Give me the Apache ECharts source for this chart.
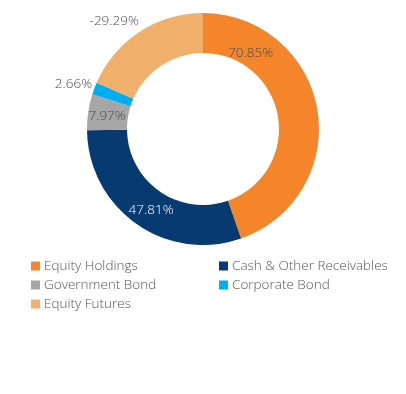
<!DOCTYPE html>
<html><head><meta charset="utf-8">
<script src="https://cdn.jsdelivr.net/npm/echarts@6/dist/echarts.min.js"></script>
<style>html,body{margin:0;padding:0;background:#fff}#c{width:406px;height:394px}</style>
</head><body><div id="c"></div>
<script>
const categories = ['Equity Holdings','Cash & Other Receivables','Government Bond','Corporate Bond','Equity Futures'];
const values = [70.85, 47.81, 7.97, 2.66, -29.29];
const colors = ['#F4852A','#073A70','#A6A6A6','#00AEEF','#F0B06C'];
const labelColors = ['#4a4a4a','#ffffff','#4a4a4a','#4a4a4a','#4a4a4a'];
const labelPos = ['inside','inside','inside','outside','outside'];

const FONT = 'Open Sans';
const data = categories.map((n,i)=>({
  name:n, value:Math.abs(values[i]), signed:values[i],
  itemStyle:{color:colors[i]},
  label:{position:labelPos[i], color:labelColors[i]}
}));

const chart = echarts.init(document.getElementById('c'));
const legendText = {fontFamily:FONT,fontSize:13.5,fontWeight:300,color:'#555555',padding:[0,0,0,-1]};
chart.setOption({
  animation:false,
  textStyle:{fontFamily:FONT},
  legend:[
    {data:[categories[0],categories[2],categories[4]], orient:'vertical', left:26, top:254,
     itemWidth:9, itemHeight:9, itemGap:5, icon:'rect', textStyle:legendText, selectedMode:false},
    {data:[categories[1],categories[3]], orient:'vertical', left:214, top:254,
     itemWidth:9, itemHeight:9, itemGap:5, icon:'rect', textStyle:legendText, selectedMode:false}
  ],
  series:[{
    type:'pie', center:[203,129], radius:[76,116], startAngle:90, clockwise:true,
    avoidLabelOverlap:false,
    label:{show:true, fontFamily:FONT, fontSize:13.5, fontWeight:300, formatter:p=>p.data.signed.toFixed(2)+'%'},
    labelLine:{show:false, length:12, length2:0},
    labelLayout:function(p){
      if(p.dataIndex===0) return {dx:-50, dy:-59};
      if(p.dataIndex===1) return {dx:5};
      if(p.dataIndex===2) return {dx:2, dy:2};
      if(p.dataIndex===3) return {dx:14};
      if(p.dataIndex===4) return {dx:11, dy:-1};
      return {};
    },
    data:data
  }]
});
</script></body></html>
